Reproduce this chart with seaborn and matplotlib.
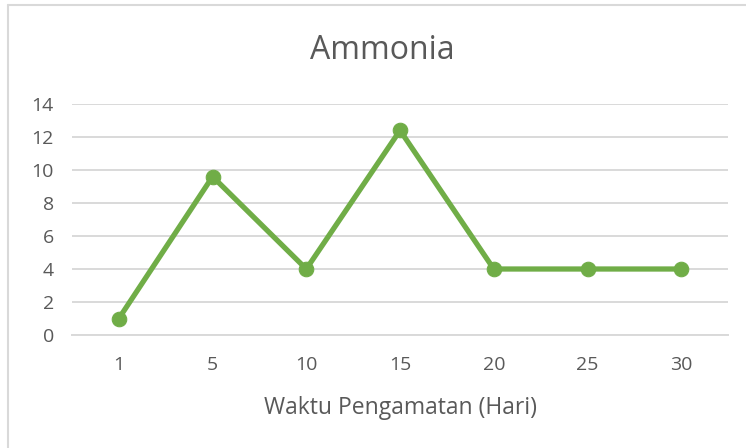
import matplotlib
matplotlib.use('Agg')
import matplotlib.pyplot as plt
import seaborn as sns
import pandas as pd
from matplotlib.lines import Line2D

# data
hari = ['1', '5', '10', '15', '20', '25', '30']
ammonia = [1.0, 9.6, 4.0, 12.4, 4.0, 4.0, 4.0]

sns.set_theme(style='white')
plt.rcParams['font.family'] = ['Open Sans', 'DejaVu Sans']

TEXT = '#595959'
GRID = '#d9d9d9'
GREEN = '#70ad47'

df = pd.DataFrame({'hari': hari, 'ammonia': ammonia})

fig = plt.figure(figsize=(7.46, 4.48), dpi=100)
ax = fig.add_axes([0.0965, 0.2522, 0.8795, 0.5157])

sns.lineplot(data=df, x='hari', y='ammonia', ax=ax, sort=False,
             color=GREEN, linewidth=3.8, marker='o', markersize=10.5,
             markeredgecolor=GREEN, zorder=3)

ax.set_xlim(-0.5, len(hari) - 0.5)
ax.set_ylim(0, 14)
ax.set_yticks(range(0, 15, 2))
ax.grid(axis='y', color=GRID, linewidth=1.4)
ax.set_axisbelow(True)
for s in ['top', 'right', 'left']:
    ax.spines[s].set_visible(False)
ax.spines['bottom'].set_color(GRID)
ax.spines['bottom'].set_linewidth(1.4)
ax.tick_params(axis='both', length=0, labelsize=14, colors=TEXT)
ax.tick_params(axis='x', pad=15)
ax.tick_params(axis='y', pad=13)
ax.set_ylabel('')
ax.set_xlabel('Waktu Pengamatan (Hari)', fontsize=16.5, color=TEXT, labelpad=16)

fig.text(0.512, 0.888, 'Ammonia', ha='center', va='center', fontsize=23, color=TEXT)

# chart frame (left and top edges visible)
fig.add_artist(Line2D([0.0107, 0.0107], [0, 0.988], transform=fig.transFigure, color=GRID, linewidth=1.5))
fig.add_artist(Line2D([0.0107, 1.0], [0.988, 0.988], transform=fig.transFigure, color=GRID, linewidth=1.5))

fig.savefig('out.png', dpi=100)
